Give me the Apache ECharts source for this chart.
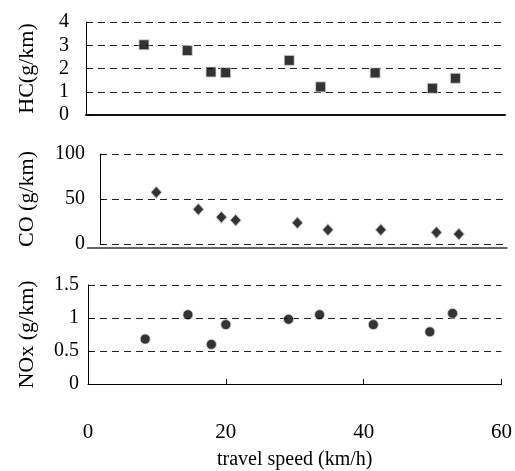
<!DOCTYPE html>
<html>
<head>
<meta charset="utf-8">
<script src="https://cdn.jsdelivr.net/npm/echarts@6/dist/echarts.min.js"></script>
<style>
html, body { margin: 0; padding: 0; background: #fff; }
#chart { width: 515px; height: 471px; }
</style>
</head>
<body>
<div id="chart"></div>
<script>
// travel speed (km/h) for each measurement
var speed = [8.3, 14.5, 17.9, 20.0, 29.1, 33.6, 41.4, 49.6, 52.9];
var hcValues = [3.02, 2.77, 1.85, 1.82, 2.35, 1.21, 1.81, 1.15, 1.58];
var coValues = [57.4, 38.6, 29.8, 26.5, 23.5, 15.8, 15.8, 12.8, 11.0];
var noxValues = [0.68, 1.05, 0.60, 0.90, 0.98, 1.05, 0.90, 0.79, 1.07];
var speedTicks = [0, 20, 40, 60];

var FONT = 'Liberation Serif';

function pairs(ys) {
    var out = [];
    for (var i = 0; i < speed.length; i++) out.push([speed[i], ys[i]]);
    return out;
}

function yAxis(idx, max, interval, name, nameGap, labelMargin) {
    return {
        gridIndex: idx,
        type: 'value',
        min: 0, max: max, interval: interval,
        name: name,
        nameLocation: 'middle',
        nameGap: nameGap,
        nameTextStyle: { fontFamily: FONT, fontSize: 22, color: '#000' },
        axisLine: { show: true, lineStyle: { color: '#000', width: 1 } },
        axisTick: { show: true, inside: true, length: 4, lineStyle: { color: '#000' } },
        axisLabel: { fontFamily: FONT, fontSize: 20, color: '#000', margin: labelMargin },
        splitLine: { show: true, lineStyle: { color: '#222', type: [7, 5], width: 1 } }
    };
}

function xAxis(idx, showLabels, extra) {
    var a = {
        gridIndex: idx,
        type: 'value',
        min: 0, max: 60, interval: 20,
        axisLine: { show: true, onZero: false, lineStyle: { color: '#000', width: 1 } },
        axisTick: { show: false },
        axisLabel: { show: false },
        splitLine: { show: false }
    };
    if (showLabels) {
        a.axisTick = { show: true, inside: true, length: 5, lineStyle: { color: '#000' } };
        a.axisLabel = {
            show: true, fontFamily: FONT, fontSize: 21, color: '#000', margin: 38,
            formatter: function (v) { return speedTicks.indexOf(v) >= 0 ? String(v) : ''; }
        };
        a.name = 'travel speed (km/h)';
        a.nameLocation = 'middle';
        a.nameGap = 66;
        a.nameTextStyle = { fontFamily: FONT, fontSize: 20, color: '#000' };
    }
    for (var k in extra) a[k] = extra[k];
    return a;
}

var markerStyle = { color: '#000', borderColor: '#d4d4d4', borderWidth: 1 };

var option = {
    animation: false,
    backgroundColor: '#fff',
    grid: [
        { left: 86, right: 10, top: 22, height: 93 },
        { left: 100, right: 8, top: 154, height: 90 },
        { left: 88, right: 12, top: 285, height: 111 }
    ],
    xAxis: [
        xAxis(0, false, { axisLine: { show: true, onZero: false, lineStyle: { color: '#111', width: 2 } } }),
        xAxis(1, false, { offset: 4, axisLine: { show: true, onZero: false, lineStyle: { color: '#333', width: 1.5 } } }),
        xAxis(2, true, {})
    ],
    yAxis: [
        yAxis(0, 4, 1, 'HC(g/km)', 48, 17),
        yAxis(1, 100, 50, 'CO (g/km)', 62, 15),
        yAxis(2, 1.5, 0.5, 'NOx (g/km)', 50, 9)
    ],
    graphic: [
        // short stub of the CO panel's base line left of its y axis
        { type: 'line', shape: { x1: 87, y1: 248, x2: 100, y2: 248 }, style: { stroke: '#333', lineWidth: 1.5 } }
    ],
    series: [
        { type: 'scatter', xAxisIndex: 0, yAxisIndex: 0, symbol: 'rect', symbolSize: 10, itemStyle: markerStyle, data: pairs(hcValues) },
        { type: 'scatter', xAxisIndex: 1, yAxisIndex: 1, symbol: 'diamond', symbolSize: [11, 12], itemStyle: markerStyle, data: pairs(coValues) },
        { type: 'scatter', xAxisIndex: 2, yAxisIndex: 2, symbol: 'circle', symbolSize: 10, itemStyle: markerStyle, data: pairs(noxValues) }
    ]
};

var chart = echarts.init(document.getElementById('chart'), null, { renderer: 'canvas' });
chart.setOption(option);
</script>
</body>
</html>
